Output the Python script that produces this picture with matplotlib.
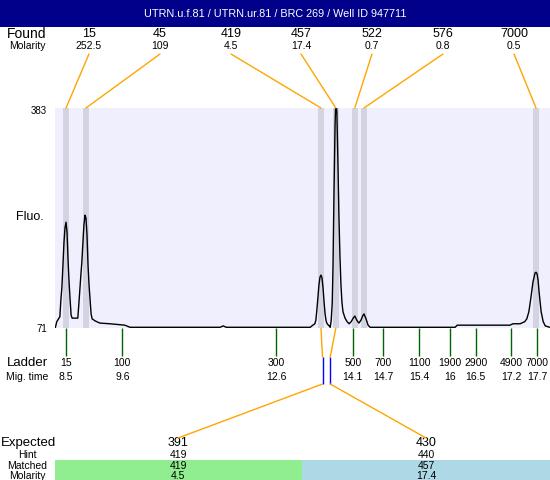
import matplotlib
matplotlib.use('Agg')
import matplotlib.pyplot as plt
from matplotlib.patches import ConnectionPatch, Rectangle
from matplotlib.transforms import blended_transform_factory

plt.rcParams['font.family'] = ['Liberation Sans', 'DejaVu Sans']

title = "UTRN.u.f.81 / UTRN.ur.81 / BRC 269 / Well ID 947711"

# found peaks (size, molarity, migration time)
found_size = ['15', '45', '419', '457', '522', '576', '7000']
found_molarity = ['252.5', '109', '4.5', '17.4', '0.7', '0.8', '0.5']
found_time = [8.50, 8.89, 13.48, 13.77, 14.14, 14.32, 17.68]

# ladder
ladder_size = ['15', '100', '300', '500', '700', '1100', '1900', '2900', '4900', '7000']
ladder_mig = ['8.5', '9.6', '12.6', '14.1', '14.7', '15.4', '16', '16.5', '17.2', '17.7']
ladder_time = [8.5, 9.6, 12.6, 14.1, 14.7, 15.4, 16.0, 16.5, 17.2, 17.7]

# expected products
expected_size = ['391', '430']
expected_time = [13.51, 13.66]
hint_size = ['419', '440']
matched_size = ['419', '457']
matched_molarity = ['4.5', '17.4']
matched_time = [13.48, 13.77]

# electropherogram trace
trace_time = [8.29, 8.32, 8.38, 8.40, 8.42, 8.44, 8.46, 8.48, 8.50, 8.52, 8.54, 8.56, 8.58,
              8.60, 8.62, 8.73, 8.75, 8.77, 8.79, 8.81, 8.83, 8.85, 8.87, 8.89, 8.91, 8.93,
              8.95, 8.97, 8.99, 9.01, 9.07, 9.16, 9.36, 9.65, 9.75, 11.51, 11.57, 11.63,
              13.27, 13.32, 13.36, 13.38, 13.40, 13.42, 13.44, 13.46, 13.48, 13.50, 13.52,
              13.54, 13.56, 13.58, 13.60, 13.64, 13.66, 13.68, 13.70, 13.715, 13.735, 13.755,
              13.77, 13.79, 13.81, 13.83, 13.85, 13.87, 13.89, 13.91, 13.95, 13.99, 14.03,
              14.07, 14.11, 14.14, 14.18, 14.22, 14.26, 14.30, 14.32, 14.36, 14.40, 14.44,
              16.10, 16.14, 17.17, 17.23, 17.37, 17.46, 17.50, 17.54, 17.58, 17.62, 17.66,
              17.68, 17.70, 17.72, 17.74, 17.76, 17.78, 17.82, 17.86, 17.95]
trace_fluo = [71, 80, 87, 111, 129, 160, 192, 213, 221, 207, 167, 136, 111,
              89, 85, 85, 104, 125, 146, 165, 192, 217, 231, 227, 203, 160,
              132, 111, 91, 84, 81, 78, 77, 75, 72, 72, 74, 72,
              72, 75, 77, 82, 97, 114, 132, 143, 146, 142, 128,
              108, 91, 81, 77, 74, 72, 82, 107, 160, 267, 359,
              395, 377, 309, 231, 174, 132, 107, 94, 85, 80, 77,
              80, 85, 88, 82, 78, 82, 89, 91, 84, 75, 72,
              72, 75, 75, 77, 77, 80, 84, 94, 114, 136, 149,
              150, 148, 139, 122, 108, 94, 80, 74, 72]

fluo_min, fluo_max = 71, 383

fig = plt.figure(figsize=(5.5, 4.8), dpi=100)
bg = fig.add_axes([0, 0, 1, 1])
bg.set_xlim(0, 550)
bg.set_ylim(480, 0)
bg.axis('off')

ax = fig.add_axes([55 / 550, 152 / 480, 495 / 550, 220 / 480])
ax.set_facecolor('#efeffd')
ax.set_xlim(8.285, 17.953)
ax.set_ylim(fluo_min, fluo_max)
ax.set_xticks([])
ax.set_yticks([])
for s in ax.spines.values():
    s.set_visible(False)

for t in found_time:
    ax.axvspan(t - 0.055, t + 0.055, color='#d3d3e1', lw=0, zorder=1)
ax.plot(trace_time, trace_fluo, color='black', lw=1, zorder=2, clip_on=True)

# title banner
bg.add_patch(Rectangle((0, 0), 550, 27, color='#00008b', lw=0))
bg.text(275, 14, title, color='white', fontsize=7.8, ha='center', va='center')

# found row
bg.text(27, 34, 'Found', fontsize=10, ha='center', va='center')
bg.text(27, 46, 'Molarity', fontsize=7.5, ha='center', va='center')
label_x = [89, 160, 231, 301, 372, 443, 514]
for lx, sz, mol, t in zip(label_x, found_size, found_molarity, found_time):
    bg.text(lx, 34, sz, fontsize=9, ha='center', va='center')
    bg.text(lx, 46, mol, fontsize=7.5, ha='center', va='center')
    con = ConnectionPatch(xyA=(lx, 54), coordsA=bg.transData,
                          xyB=(t, fluo_max), coordsB=ax.transData,
                          color='orange', lw=1)
    fig.add_artist(con)

# y labels
bg.text(47, 111, str(fluo_max), fontsize=7, ha='right', va='center')
bg.text(47, 329, str(fluo_min), fontsize=7, ha='right', va='center')
bg.text(30, 217, 'Fluo.', fontsize=9, ha='center', va='center')

# ladder row
trans = blended_transform_factory(ax.transData, bg.transData)
bg.vlines(ladder_time, 328, 356, transform=trans, color='#006400', lw=1)
bg.text(27, 363, 'Ladder', fontsize=9.5, ha='center', va='center')
bg.text(27, 377, 'Mig. time', fontsize=7.5, ha='center', va='center')
for t, sz, mg in zip(ladder_time, ladder_size, ladder_mig):
    bg.text(t, 363, sz, fontsize=7.5, ha='center', va='center', transform=trans)
    bg.text(t, 377, mg, fontsize=7.5, ha='center', va='center', transform=trans)

# expected markers
exp_x = [178, 426]
bg.vlines(expected_time, 357, 384, transform=trans, color='blue', lw=1)
for mt, et, ex in zip(matched_time, expected_time, exp_x):
    bg.plot([mt, et], [328, 357], transform=trans, color='orange', lw=1)
    con = ConnectionPatch(xyA=(et, 384), coordsA=trans,
                          xyB=(ex, 438), coordsB=bg.transData,
                          color='orange', lw=1)
    fig.add_artist(con)

# bottom table
bg.add_patch(Rectangle((55, 460), 247, 20, color='#90ee90', lw=0))
bg.add_patch(Rectangle((302, 460), 248, 20, color='#add8e6', lw=0))
bg.text(1, 443, 'Expected', fontsize=9.5, ha='left', va='center')
bg.text(27, 455, 'Hint', fontsize=7.5, ha='center', va='center')
bg.text(27, 466, 'Matched', fontsize=7.5, ha='center', va='center')
bg.text(27, 476, 'Molarity', fontsize=7.5, ha='center', va='center')
for ex, es, hs, ms, mm in zip(exp_x, expected_size, hint_size, matched_size, matched_molarity):
    bg.text(ex, 443, es, fontsize=9, ha='center', va='center')
    bg.text(ex, 455, hs, fontsize=7.5, ha='center', va='center')
    bg.text(ex, 466, ms, fontsize=7.5, ha='center', va='center')
    bg.text(ex, 476, mm, fontsize=7.5, ha='center', va='center')

fig.savefig('out.png', dpi=100)
